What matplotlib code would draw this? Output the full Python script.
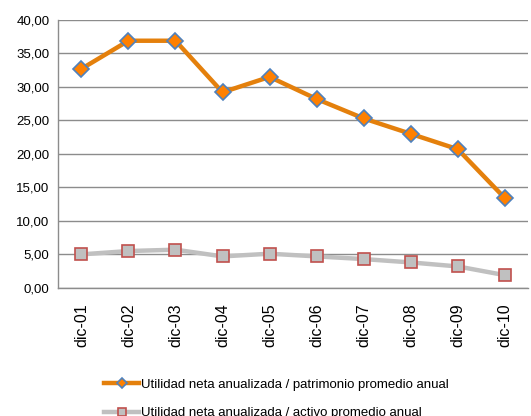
import matplotlib
matplotlib.use('Agg')
import matplotlib.pyplot as plt

plt.rcParams['font.family'] = ['Liberation Sans', 'DejaVu Sans']

# data
fechas = ['dic-01', 'dic-02', 'dic-03', 'dic-04', 'dic-05',
          'dic-06', 'dic-07', 'dic-08', 'dic-09', 'dic-10']
roe = [32.7, 36.9, 36.9, 29.2, 31.5, 28.2, 25.3, 23.0, 20.7, 13.4]
roa = [5.0, 5.5, 5.7, 4.7, 5.1, 4.7, 4.3, 3.8, 3.2, 1.9]
yticks = [0, 5, 10, 15, 20, 25, 30, 35, 40]

fig = plt.figure(figsize=(5.31, 4.16), dpi=100)
ax = fig.add_axes([0.109, 0.308, 0.886, 0.644])

x = list(range(len(fechas)))
ax.plot(x, roe, color='#E4800C', lw=3.2, marker='D', ms=8.5,
        markerfacecolor='#FF8000', markeredgecolor='#4F81BD', mew=1.2,
        label='Utilidad neta anualizada / patrimonio promedio anual', zorder=3)
ax.plot(x, roa, color='#C0C0C0', lw=3.2, marker='s', ms=9,
        markerfacecolor='#C0C0C0', markeredgecolor='#C0504D', mew=1.2,
        label='Utilidad neta anualizada / activo promedio anual', zorder=3)

ax.set_xlim(-0.5, len(fechas) - 0.5)
ax.set_ylim(0, 40)
ax.set_yticks(yticks)
ax.set_yticklabels([f'{v:.2f}'.replace('.', ',') for v in yticks])
ax.set_xticks(x)
ax.set_xticklabels(fechas, rotation=90)
ax.tick_params(axis='y', labelsize=9.5, length=0, pad=6)
ax.tick_params(axis='x', labelsize=11.5, length=0, pad=11)

ax.grid(axis='y', color='#8C8C8C', lw=1)
ax.set_axisbelow(True)
for s in ['top', 'right']:
    ax.spines[s].set_visible(False)
for s in ['left', 'bottom']:
    ax.spines[s].set_color('#8C8C8C')
    ax.spines[s].set_linewidth(1)

fig.legend(loc='upper left', bbox_to_anchor=(0.186, 0.102), ncol=1,
           frameon=False, fontsize=9.5, handlelength=2.65, handletextpad=0.15,
           labelspacing=1.2, borderaxespad=0, markerscale=0.65)

fig.savefig('out.png', dpi=100, facecolor='white')
